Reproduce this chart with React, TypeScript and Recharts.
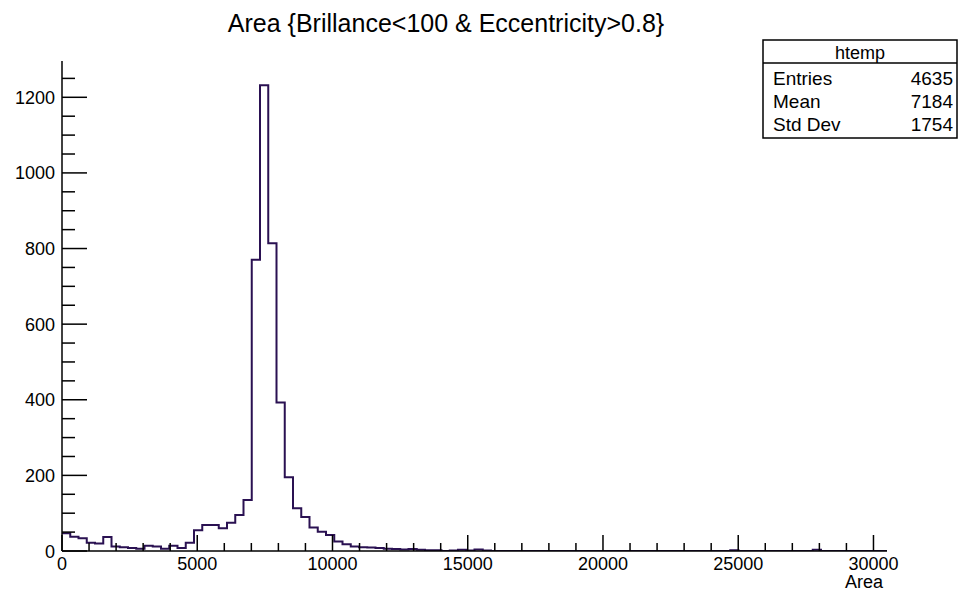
import React from 'react';
import { LineChart, Line, XAxis, YAxis } from 'recharts';

// ---- data ----
const binCounts: number[] = [
  47, 38, 34, 22, 20, 37, 12, 10, 8, 6,
  14, 12, 6, 14, 8, 22, 55, 69, 69, 60,
  75, 95, 135, 770, 1232, 814, 393, 195, 113, 90,
  62, 51, 42, 25, 18, 12, 10, 9, 8, 6,
  5, 4, 5, 3, 2, 2, 0, 1, 3, 1,
  4, 1, 0, 0, 0, 0, 0, 0, 0, 0,
  0, 0, 0, 0, 0, 0, 0, 0, 0, 0,
  0, 0, 0, 0, 0, 0, 0, 0, 0, 0,
  0, 2, 0, 0, 0, 0, 0, 0, 0, 0,
  0, 3, 0, 0, 0, 0, 0, 0, 0, 0,
];
const xMin = 0;
const xMax = 30500;
const yMax = 1296;

const xMajorTicks = [0, 5000, 10000, 15000, 20000, 25000, 30000];
const xMinorTicks = [
  1000, 2000, 3000, 4000, 6000, 7000, 8000, 9000, 11000, 12000, 13000, 14000,
  16000, 17000, 18000, 19000, 21000, 22000, 23000, 24000, 26000, 27000, 28000, 29000,
];
const yMajorTicks = [0, 200, 400, 600, 800, 1000, 1200];
const yMinorTicks = [
  50, 100, 150, 250, 300, 350, 450, 500, 550, 650, 700, 750,
  850, 900, 950, 1050, 1100, 1150, 1250,
];

const chartTitle = 'Area {Brillance<100 & Eccentricity>0.8}';
const xAxisTitle = 'Area';
const statsName = 'htemp';
const statsLabels = ['Entries', 'Mean', 'Std Dev'];
const statsValues = ['4635', '7184', '1754'];

// ---- derived table ----
const binWidth = (xMax - xMin) / binCounts.length;
const histData = binCounts
  .map((c, i) => ({ x: xMin + i * binWidth, count: c }))
  .concat([{ x: xMax, count: 0 }]);

const FONT = '"Liberation Sans", Arial, Helvetica, sans-serif';
const LINE_COLOR = '#2a1152';

const allXTicks = [...xMajorTicks, ...xMinorTicks].sort((a, b) => a - b);
const allYTicks = [...yMajorTicks, ...yMinorTicks].sort((a, b) => a - b);

const XTick = (props: any) => {
  const { x, y, payload } = props;
  const v = payload.value;
  const major = xMajorTicks.includes(v);
  return (
    <g>
      <line x1={x} x2={x} y1={y} y2={y - (major ? 16 : 8)} stroke="#000" strokeWidth={1.5} />
      {major && (
        <text x={x} y={y + 19} textAnchor="middle" fontSize={18} fontFamily={FONT} fill="#000">
          {v}
        </text>
      )}
    </g>
  );
};

const YTick = (props: any) => {
  const { x, y, payload } = props;
  const v = payload.value;
  const major = yMajorTicks.includes(v);
  return (
    <g>
      <line x1={x} x2={x + (major ? 25 : 13)} y1={y} y2={y} stroke="#000" strokeWidth={1.5} />
      {major && (
        <text x={x - 7} y={y + 6.5} textAnchor="end" fontSize={18} fontFamily={FONT} fill="#000">
          {v}
        </text>
      )}
    </g>
  );
};

export default function App() {
  return (
    <div style={{ position: 'absolute', left: 0, top: 0, width: 960, height: 597, background: '#fff' }}>
      <LineChart
        width={960}
        height={597}
        data={histData}
        margin={{ top: 61, right: 73, bottom: 0, left: 0 }}
      >
        <XAxis
          dataKey="x"
          type="number"
          domain={[xMin, xMax]}
          allowDataOverflow
          ticks={allXTicks}
          interval={0}
          height={46}
          tickSize={0}
          tickMargin={0}
          tickLine={false}
          tick={<XTick />}
          axisLine={{ stroke: '#000', strokeWidth: 1.5 }}
        />
        <YAxis
          type="number"
          domain={[0, yMax]}
          allowDataOverflow
          ticks={allYTicks}
          interval={0}
          width={62}
          tickSize={0}
          tickMargin={0}
          tickLine={false}
          tick={<YTick />}
          axisLine={{ stroke: '#000', strokeWidth: 1.5 }}
        />
        <XAxis
          xAxisId="top"
          orientation="top"
          type="number"
          domain={[xMin, xMax]}
          height={0}
          tick={false}
          tickLine={false}
          axisLine={{ stroke: '#000', strokeWidth: 1.5 }}
        />
        <YAxis
          yAxisId="right"
          orientation="right"
          type="number"
          domain={[0, yMax]}
          width={0}
          tick={false}
          tickLine={false}
          axisLine={{ stroke: '#000', strokeWidth: 1.5 }}
        />
        <Line
          type="stepAfter"
          dataKey="count"
          stroke={LINE_COLOR}
          strokeWidth={2}
          dot={false}
          activeDot={false}
          isAnimationActive={false}
        />
      </LineChart>
      <svg
        width={960}
        height={597}
        style={{ position: 'absolute', left: 0, top: 0, pointerEvents: 'none' }}
      >
        <text x={446} y={32} textAnchor="middle" fontSize={25} fontFamily={FONT} fill="#000">
          {chartTitle}
        </text>
        <text x={883} y={588} textAnchor="end" fontSize={18} fontFamily={FONT} fill="#000">
          {xAxisTitle}
        </text>
        <rect x={763} y={40} width={194} height={98} fill="#fff" stroke="#000" strokeWidth={1.5} />
        <line x1={763} x2={957} y1={63} y2={63} stroke="#000" strokeWidth={1.5} />
        <text x={860} y={59} textAnchor="middle" fontSize={18} fontFamily={FONT} fill="#000">
          {statsName}
        </text>
        {statsLabels.map((lab, i) => (
          <g key={lab}>
            <text x={773} y={85 + i * 23} fontSize={19} fontFamily={FONT} fill="#000">
              {lab}
            </text>
            <text x={953} y={85 + i * 23} textAnchor="end" fontSize={19} fontFamily={FONT} fill="#000">
              {statsValues[i]}
            </text>
          </g>
        ))}
      </svg>
    </div>
  );
}
